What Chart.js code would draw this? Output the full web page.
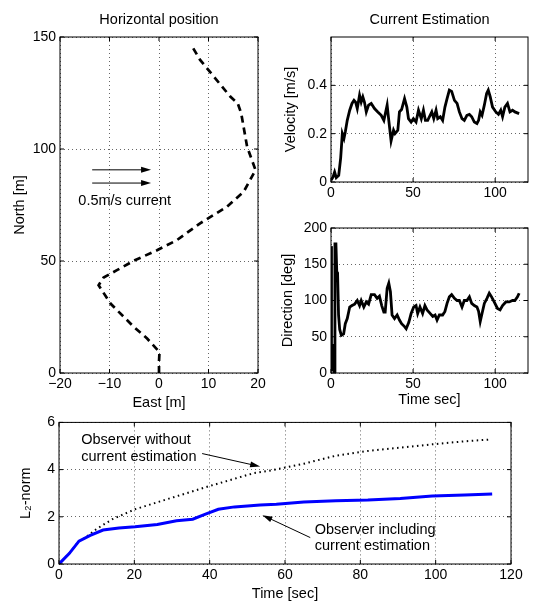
<!DOCTYPE html>
<html>
<head>
<meta charset="utf-8">
<script src="https://cdn.jsdelivr.net/npm/chart.js@4.4.1/dist/chart.umd.min.js"></script>
<style>
  body { margin: 0; background: #fff; }
  #wrap { position: relative; width: 540px; height: 603px; }
  canvas { position: absolute; }
</style>
</head>
<body>
<div id="wrap">
  <canvas id="pos" width="270" height="420" style="left:0;top:0"></canvas>
  <canvas id="vel" width="270" height="200" style="left:270px;top:0"></canvas>
  <canvas id="dir" width="270" height="215" style="left:270px;top:200px"></canvas>
  <canvas id="norm" width="540" height="193" style="left:0;top:410px"></canvas>
</div>
<script>
Chart.defaults.font.family = '"Liberation Sans", Arial, Helvetica, sans-serif';
Chart.defaults.font.size = 14;
Chart.defaults.color = '#000';
const textFont = '14.5px "Liberation Sans", Arial, sans-serif';

// horizontal position, east / north in metres
const eastPos  = [0, 0, 0.1, -1, -2.4, -5.1, -9.8, -12.2, -11.2, -8.5, -5.1, -0.4, 3.6, 8.3, 13.7, 17.1, 19.5, 17.8, 16.6, 15.9, 14.4, 8.3, 6.9];
const northPos = [0, 5, 9.4, 12, 15.4, 20.6, 31, 39.2, 42.6, 45.9, 50.1, 54.8, 59.3, 66.8, 74.2, 80.9, 90.6, 101, 116, 120.4, 123.4, 139.8, 145];
const posXTicks = [-20, -10, 0, 10, 20];
const posYTicks = [0, 50, 100, 150];
// current arrows + label, in east/north units
const posArrows = [[-13.5, 90.7, -1.6, 90.7], [-13.5, 84.8, -1.6, 84.8]];
const posTexts = [['0.5m/s current', -16.3, 77]];

// current estimation: velocity
const velTime = [0, 1.2, 2.2, 3.2, 4.7, 5.9, 6.9, 7.9, 8.7, 9.9, 11.4, 12.8, 14, 15, 16, 17.4, 18.4, 19.4, 20.4, 21.5,
  22.9, 24.5, 26.5, 28.5, 30.6, 32.2, 33, 34.2, 35.2, 36.6, 38.1, 39, 40.7, 41.7, 43, 44.8, 46.2, 47.2, 48.8, 50.2,
  51.8, 53.3, 55, 56.3, 57.5, 58.9, 61.4, 62.6, 64, 65, 66.6, 68, 69.4, 70.7, 72.1, 73.5, 75.2, 76.8, 78.2, 79.8,
  81.2, 82.8, 84.3, 85.7, 87.3, 88.9, 89.9, 90.9, 92, 93.4, 94.8, 95.8, 97, 98.4, 100.4, 102, 103.4, 104.5, 105.9, 107.5,
  109, 110.6, 112, 114.6];
const velValues = [0.007, 0.02, 0.041, 0.018, 0.028, 0.10, 0.20, 0.18, 0.207, 0.255, 0.297, 0.325, 0.338, 0.33, 0.304, 0.359, 0.331, 0.352, 0.33, 0.29,
  0.318, 0.325, 0.304, 0.29, 0.276, 0.255, 0.28, 0.318, 0.255, 0.17, 0.214, 0.2, 0.214, 0.29, 0.30, 0.345, 0.31, 0.262, 0.248, 0.262,
  0.248, 0.297, 0.262, 0.297, 0.255, 0.255, 0.29, 0.262, 0.297, 0.262, 0.27, 0.255, 0.31, 0.345, 0.38, 0.375, 0.338, 0.325, 0.29, 0.262,
  0.255, 0.276, 0.28, 0.27, 0.248, 0.242, 0.255, 0.29, 0.276, 0.318, 0.366, 0.38, 0.352, 0.31, 0.29, 0.28, 0.297, 0.27, 0.31, 0.325,
  0.29, 0.297, 0.29, 0.283];

// current estimation: direction
const dirTime = [0, 0.3, 0.8, 1.2, 1.6, 2.0, 2.4, 3.0, 3.5, 4.0, 4.6, 5.3, 6.3, 7.7, 8.7, 9.9, 11.4, 12.8, 14.4, 16,
  17.4, 18.4, 20, 21.5, 22.9, 24.5, 26.5, 28.1, 29.5, 30.9, 32.2, 33, 34.2, 35.2, 36.2, 37.2, 38.7, 40.3, 41.7, 43,
  44.8, 45.8, 47.4, 48.8, 50.4, 51.8, 52.8, 54.2, 55.8, 57.2, 58.5, 60.5, 62, 63.4, 64.6, 66, 68, 69.4, 70.7, 72.1,
  73.5, 75.2, 76.8, 78.2, 79.8, 81.2, 82.8, 84.3, 85.7, 87.3, 88.9, 89.9, 90.9, 92, 93.4, 95, 96.4, 97.8, 99.4, 101.4,
  103, 104.5, 106.5, 108.5, 110.6, 112, 113.6, 114.6];
const dirValues = [175, 2, 40, 2, 25, 0, 178, 178, 140, 138, 80, 60, 52, 54, 68, 75, 91, 93, 95, 100,
  93, 100, 91, 98, 95, 108, 108, 103, 106, 93, 84, 84, 117, 124, 112, 80, 75, 80, 73, 68,
  64, 61, 70, 82, 91, 93, 82, 91, 82, 93, 87, 82, 78, 80, 73, 80, 80, 85, 96, 105,
  108, 103, 100, 100, 91, 100, 100, 105, 96, 93, 91, 85, 71, 82, 96, 103, 110, 105, 98, 89,
  87, 93, 98, 98, 100, 100, 105, 110];
const timeTicks = [0, 50, 100];
const velTicks = [0, 0.2, 0.4];
const dirTicks = [0, 50, 100, 150, 200];

// L2-norm of the position error
const withTime   = [0, 2.7, 5.3, 8.3, 11.7, 15.9, 20.2, 26.1, 31.2, 35.5, 38.9, 42.3, 46.6, 53.4, 57.7, 65, 73.5, 82, 90.6, 99.1, 107.7, 115];
const withValues = [0, 0.44, 0.97, 1.21, 1.44, 1.53, 1.58, 1.67, 1.83, 1.9, 2.11, 2.32, 2.42, 2.5, 2.53, 2.63, 2.68, 2.71, 2.78, 2.88, 2.92, 2.97];
const withoutTime   = [0, 2.7, 5.3, 6.6, 10, 14.2, 20.2, 24.4, 30.4, 35.5, 39.7, 45.7, 51.7, 56.5, 65, 73.5, 82, 90.6, 99.1, 107.7, 114];
const withoutValues = [0, 0.44, 0.97, 1.07, 1.49, 1.9, 2.32, 2.53, 2.83, 3.08, 3.29, 3.57, 3.85, 3.97, 4.25, 4.59, 4.79, 4.93, 5.07, 5.2, 5.27];
const normXTicks = [0, 20, 40, 60, 80, 100, 120];
const normYTicks = [0, 2, 4, 6];
const normArrows = [[38, 4.68, 53.4, 4.13], [66.7, 1.12, 54, 2.07]];
const normTexts = [
  ['Observer without', 5.9, 5.24], ['current estimation', 5.9, 4.54],
  ['Observer including', 67.9, 1.44], ['current estimation', 67.9, 0.75]
];

function pts(xs, ys) {
  return xs.map((x, i) => ({ x: x, y: ys[i] }));
}

// box round the plot, inward tick marks, panel title
const frame = {
  id: 'frame',
  afterDatasetsDraw(chart, args, opts) {
    const { ctx, chartArea: a, scales } = chart;
    ctx.save();
    ctx.strokeStyle = '#000';
    ctx.lineWidth = 1;
    ctx.strokeRect(a.left, a.top, a.right - a.left, a.bottom - a.top);
    ctx.beginPath();
    scales.x.ticks.forEach(t => {
      const px = scales.x.getPixelForValue(t.value);
      ctx.moveTo(px, a.bottom); ctx.lineTo(px, a.bottom - 4);
      ctx.moveTo(px, a.top); ctx.lineTo(px, a.top + 4);
    });
    scales.y.ticks.forEach(t => {
      const py = scales.y.getPixelForValue(t.value);
      ctx.moveTo(a.left, py); ctx.lineTo(a.left + 4, py);
      ctx.moveTo(a.right, py); ctx.lineTo(a.right - 4, py);
    });
    ctx.stroke();
    if (opts.title) {
      ctx.font = textFont;
      ctx.fillStyle = '#000';
      ctx.textAlign = 'center';
      ctx.textBaseline = 'middle';
      ctx.fillText(opts.title, (a.left + a.right) / 2, a.top - 17);
    }
    ctx.restore();
  }
};

// arrows and free text, placed in data units
const notes = {
  id: 'notes',
  afterDatasetsDraw(chart, args, opts) {
    const { ctx, scales: { x, y } } = chart;
    ctx.save();
    ctx.strokeStyle = '#000';
    ctx.fillStyle = '#000';
    ctx.lineWidth = 1;
    (opts.arrows || []).forEach(ar => {
      const x1 = x.getPixelForValue(ar[0]), y1 = y.getPixelForValue(ar[1]);
      const x2 = x.getPixelForValue(ar[2]), y2 = y.getPixelForValue(ar[3]);
      const ang = Math.atan2(y2 - y1, x2 - x1);
      const c = Math.cos(ang), s = Math.sin(ang);
      ctx.beginPath();
      ctx.moveTo(x1, y1);
      ctx.lineTo(x2 - 8 * c, y2 - 8 * s);
      ctx.stroke();
      ctx.beginPath();
      ctx.moveTo(x2, y2);
      ctx.lineTo(x2 - 10 * c + 3 * s, y2 - 10 * s - 3 * c);
      ctx.lineTo(x2 - 10 * c - 3 * s, y2 - 10 * s + 3 * c);
      ctx.closePath();
      ctx.fill();
    });
    ctx.font = textFont;
    ctx.textAlign = 'left';
    ctx.textBaseline = 'middle';
    (opts.texts || []).forEach(t => {
      ctx.fillText(t[0], x.getPixelForValue(t[1]), y.getPixelForValue(t[2]));
    });
    ctx.restore();
  }
};

function axis(o) {
  return {
    type: 'linear',
    min: o.min,
    max: o.max,
    afterBuildTicks: s => { s.ticks = o.ticks.map(v => ({ value: v })); },
    afterFit: s => {
      if (o.width) s.width = o.width;
      if (o.height) s.height = o.height;
    },
    grid: { color: 'rgba(0,0,0,0.6)', lineWidth: 1, drawTicks: false },
    border: { display: false, dash: [1, 3] },
    ticks: {
      padding: o.pad,
      autoSkip: false,
      maxRotation: 0,
      callback: v => String(v).replace('-', '\u2212')
    },
    title: {
      display: !!o.title,
      text: o.title,
      font: { size: 14.5 },
      padding: { top: o.tpad || 0, bottom: o.tpad || 0 }
    }
  };
}

function lineSet(data, color, width, dash) {
  return {
    data: data,
    showLine: true,
    borderColor: color,
    backgroundColor: color,
    borderWidth: width,
    borderDash: dash || [],
    pointRadius: 0,
    fill: false,
    tension: 0
  };
}

function baseOptions(pad, xAxis, yAxis, plugins) {
  return {
    responsive: false,
    animation: false,
    events: [],
    devicePixelRatio: 1,
    layout: { padding: pad },
    scales: { x: xAxis, y: yAxis },
    plugins: Object.assign({ legend: { display: false }, tooltip: { enabled: false } }, plugins)
  };
}

new Chart(document.getElementById('pos'), {
  type: 'scatter',
  data: { datasets: [lineSet(pts(eastPos, northPos), '#000', 2.7, [7, 5])] },
  options: baseOptions(
    { left: 0, top: 37, right: 12, bottom: 0 },
    axis({ min: -20, max: 20, ticks: posXTicks, height: 47, pad: 3, title: 'East [m]', tpad: 8 }),
    axis({ min: 0, max: 150, ticks: posYTicks, width: 60, pad: 4, title: 'North [m]', tpad: 11 }),
    { frame: { title: 'Horizontal position' }, notes: { arrows: posArrows, texts: posTexts } }
  ),
  plugins: [frame, notes]
});

new Chart(document.getElementById('vel'), {
  type: 'scatter',
  data: { datasets: [lineSet(pts(velTime, velValues), '#000', 2.8)] },
  options: baseOptions(
    { left: 0, top: 37, right: 12, bottom: 0 },
    axis({ min: 0, max: 120, ticks: timeTicks, height: 18, pad: 3 }),
    axis({ min: 0, max: 0.6, ticks: velTicks, width: 61, pad: 4, title: 'Velocity [m/s]', tpad: 12 }),
    { frame: { title: 'Current Estimation' } }
  ),
  plugins: [frame]
});

new Chart(document.getElementById('dir'), {
  type: 'scatter',
  data: { datasets: [lineSet(pts(dirTime, dirValues), '#000', 2.8)] },
  options: baseOptions(
    { left: 0, top: 28, right: 12, bottom: 0 },
    axis({ min: 0, max: 120, ticks: timeTicks, height: 42, pad: 3, title: 'Time sec]', tpad: 6 }),
    axis({ min: 0, max: 200, ticks: dirTicks, width: 61, pad: 4, title: 'Direction [deg]', tpad: 9 }),
    { frame: {} }
  ),
  plugins: [frame]
});

new Chart(document.getElementById('norm'), {
  type: 'scatter',
  data: {
    datasets: [
      lineSet(pts(withTime, withValues), '#0000ff', 3),
      lineSet(pts(withoutTime, withoutValues), '#000', 2, [1.5, 3.5])
    ]
  },
  options: baseOptions(
    { left: 0, top: 10, right: 29, bottom: 0 },
    axis({ min: 0, max: 120, ticks: normXTicks, height: 39, pad: 3, title: 'Time [sec]', tpad: 0 }),
    axis({ min: 0, max: 6, ticks: normYTicks, width: 59, pad: 4, title: 'L\u2082-norm', tpad: 17 }),
    { frame: {}, notes: { arrows: normArrows, texts: normTexts } }
  ),
  plugins: [frame, notes]
});
</script>
</body>
</html>
